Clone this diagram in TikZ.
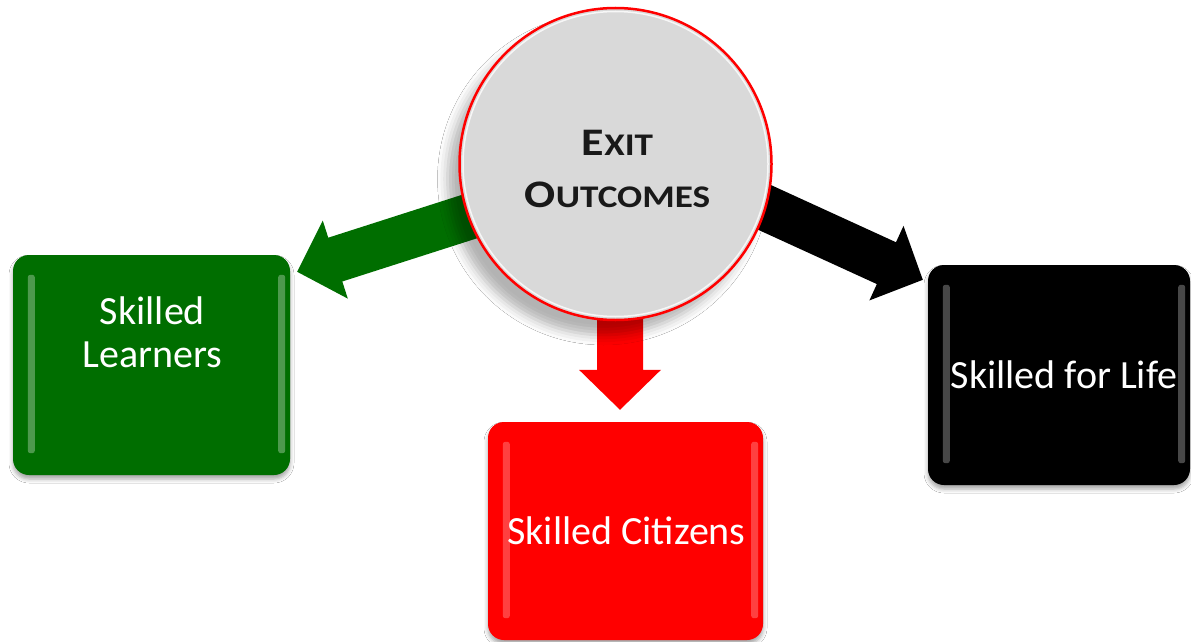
\documentclass[tikz,border=0pt]{standalone}
\usepackage{fontspec}
\setmainfont{Carlito}
\usetikzlibrary{calc,shadows.blur}
\definecolor{boxgreen}{RGB}{0,110,0}
\definecolor{circgray}{RGB}{217,217,217}
\newcommand\blockarrow[3]{%
  \fill[#1] ($(#2)!23pt!90:(#3)$) -- ($(#3)!40pt!(#2)!23pt!90:(#3)$)
    -- ($(#3)!40pt!(#2)!41pt!90:(#3)$) -- (#3)
    -- ($(#3)!40pt!(#2)!41pt!-90:(#3)$) -- ($(#3)!40pt!(#2)!23pt!-90:(#3)$)
    -- ($(#2)!23pt!-90:(#3)$) -- cycle;}
\tikzset{
  outbox/.style={rounded corners=16pt, inner sep=0pt, fill=#1,
    blur shadow={shadow xshift=0pt, shadow yshift=-4pt, shadow blur radius=4pt, shadow opacity=35}},
  boxtext/.style={text=white, font=\fontsize{40}{43}\selectfont, align=center},
  gloss/.style={fill=white, opacity=#1, rounded corners=2.5pt}
}
\begin{document}
\begin{tikzpicture}[x=1pt,y=-1pt]
\fill[white] (0,0) rectangle (1191,642);
\useasboundingbox (0,0) rectangle (1191,642);
% boxes
\node[outbox=boxgreen, minimum width=277pt, minimum height=220pt] (green) at (151.5,365) {};
\node[outbox=red, minimum width=275pt, minimum height=218pt] (red) at (625.5,531) {};
\node[outbox=black, minimum width=262pt, minimum height=220pt] (black) at (1059,375) {};
% gloss highlights
\foreach \b/\o in {green/0.3, red/0.25, black/0.28}{
  \fill[gloss=\o] ($(\b.north west)+(15,20)$) rectangle ($(\b.south west)+(22,-22)$);
  \fill[gloss=\o] ($(\b.north east)+(-12,20)$) rectangle ($(\b.south east)+(-5,-22)$);
}
% circle anchor (for arrow endpoints)
\coordinate (cc) at (615.5,164);
\coordinate (gtail) at ($(cc)+(-32,16)$);
\coordinate (gtip) at ($(green.north east)+(7,17)$);
\coordinate (rtail) at ($(cc)+(4.5,40)$);
\coordinate (rtip) at ($(red.north)+(-5.5,-12)$);
\coordinate (ktail) at ($(cc)+(34.5,-9)$);
\coordinate (ktip) at ($(black.north west)+(-5,15)$);
\blockarrow{boxgreen}{gtail}{gtip}
\blockarrow{red}{rtail}{rtip}
\blockarrow{black}{ktail}{ktip}
% circle
\node[circle, minimum size=312pt, inner sep=0pt, fill=circgray, draw=red, line width=2.5pt,
  blur shadow={shadow xshift=-12pt, shadow yshift=-15pt, shadow blur radius=10pt, shadow opacity=30}] (exit) at (cc) {};
\draw[white, line width=1.5pt, opacity=0.8] (cc) circle[radius=152.5];
\node[font=\fontsize{39}{52}\selectfont\bfseries, align=center, text=black!90] (title) at ($(cc)+(2,5)$)
  {\scalebox{1.18}[1]{E{\fontsize{31.5}{31.5}\selectfont XIT}}\\
   \scalebox{1.18}[1]{O{\fontsize{31.5}{31.5}\selectfont UTCOMES}}};
% labels
\node[boxtext] (gtext) at ($(green.north)+(1,77)$) {Skilled\\Learners};
\node[boxtext] (rtext) at ($(red.center)+(1,0)$) {Skilled Citizens};
\node[boxtext] (ktext) at ($(black.center)+(5,0)$) {Skilled for Life};
\end{tikzpicture}
\end{document}
